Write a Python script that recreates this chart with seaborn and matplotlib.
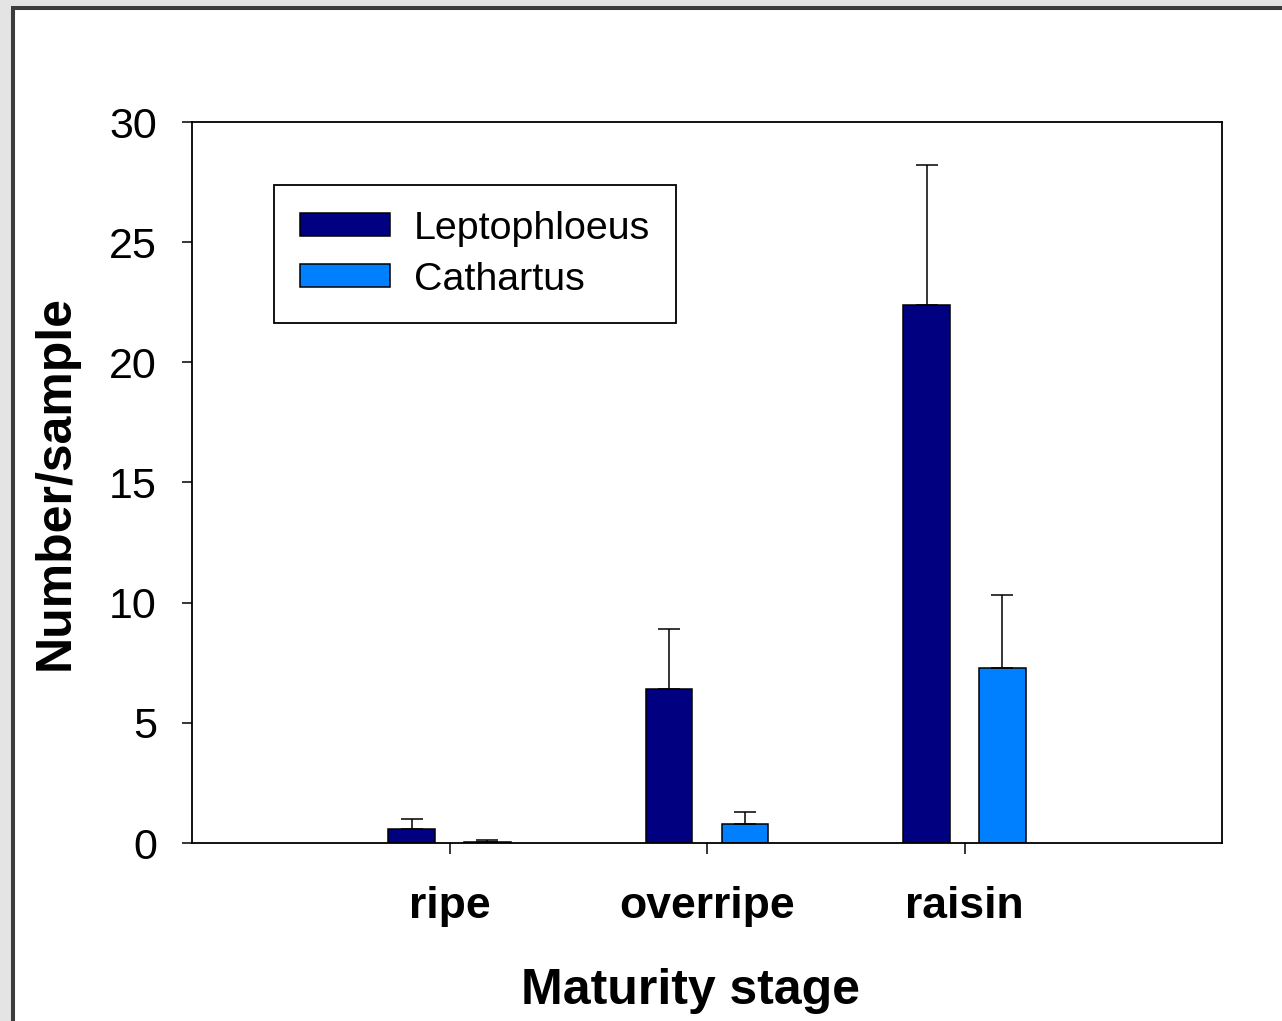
import seaborn as sns
import matplotlib.pyplot as plt
import pandas as pd
from matplotlib.patches import Patch, Rectangle

stages = ['ripe', 'overripe', 'raisin']
genera = ['Leptophloeus', 'Cathartus']
lepto_mean = [0.6, 6.4, 22.4]
lepto_err = [0.4, 2.5, 5.8]
cath_mean = [0.06, 0.8, 7.3]
cath_err = [0.06, 0.5, 3.0]
colores = ['#000080', '#0080ff']

sns.set_style('ticks')
plt.rcParams['font.family'] = ['Liberation Sans', 'DejaVu Sans']
plt.rcParams['text.color'] = 'black'
plt.rcParams['axes.labelcolor'] = 'black'

df = pd.DataFrame({
    'stage': stages * 2,
    'genus': [genera[0]] * 3 + [genera[1]] * 3,
    'valor': lepto_mean + cath_mean,
})

fig = plt.figure(figsize=(12.82, 10.21), dpi=100, facecolor='#e4e4e4')
# moldura cinza da imagem original
fig.add_artist(Rectangle((13 / 1282, -0.1), 1.2, 1.1 - 8 / 1021, transform=fig.transFigure,
                         facecolor='white', edgecolor='#3c3c3c', linewidth=2.9, zorder=-1))
ax = fig.add_axes([192 / 1282, 1 - 843 / 1021, 1030 / 1282, 721 / 1021])
ax.set_facecolor('white')

sns.barplot(data=df, x='stage', y='valor', hue='genus', order=stages, hue_order=genera,
            palette=colores, saturation=1, width=0.59, gap=0.385, errorbar=None,
            edgecolor='black', linewidth=1.1, legend=False, ax=ax)

# barras de erro só para cima
for cont, erros in zip(ax.containers, [lepto_err, cath_err]):
    xs = [p.get_x() + p.get_width() / 2 for p in cont.patches]
    ys = [p.get_height() for p in cont.patches]
    ax.errorbar(xs, ys, yerr=[[0] * len(erros), erros], fmt='none', ecolor='black',
                elinewidth=1.1, capsize=7.9, capthick=1.1, zorder=1)

ax.set_xlim(-1, 3)
ax.set_ylim(0, 30)
ax.set_yticks(range(0, 31, 5))
for s in ax.spines.values():
    s.set_visible(True)
    s.set_color('black')
    s.set_linewidth(1.3)
ax.tick_params(axis='y', direction='out', length=7.2, width=1.1, pad=18, labelsize=31, colors='black')
ax.tick_params(axis='x', direction='out', length=8, width=1.1, pad=23, labelsize=32, colors='black')
for t in ax.get_xticklabels():
    t.set_fontweight('bold')

ax.set_xlabel('Maturity stage', fontsize=36, fontweight='bold', color='black')
ax.set_ylabel('Number/sample', fontsize=36, fontweight='bold', color='black')
ax.xaxis.set_label_coords(0.4835, -0.173)
ax.yaxis.set_label_coords(-0.110, 0.5)

handles = [Patch(facecolor=c, edgecolor='black', linewidth=1.1) for c in colores]
leg = ax.legend(handles, genera, loc='upper left', bbox_to_anchor=(0.0796, 0.9126),
                borderaxespad=0, fontsize=28.4, frameon=True, fancybox=False,
                handlelength=2.28, handleheight=0.51, handletextpad=0.61,
                labelspacing=0.38, borderpad=0.65)
leg.get_frame().set_edgecolor('black')
leg.get_frame().set_linewidth(1.3)
leg.get_frame().set_alpha(1)

plt.savefig('out.png', dpi=100, facecolor=fig.get_facecolor())
